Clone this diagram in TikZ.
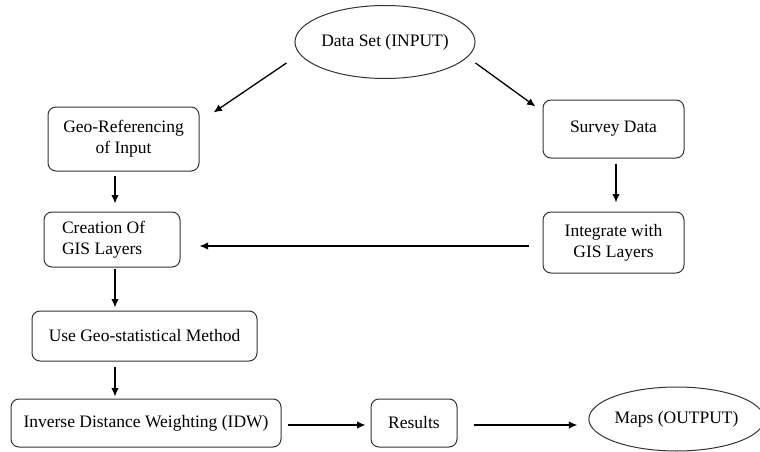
\documentclass[tikz,border=0pt]{standalone}
\usepackage{fontspec}
\setmainfont{Liberation Serif}
\usetikzlibrary{arrows.meta,shapes.geometric}

\tikzset{
  caja/.style={draw=black!80,line width=1pt,rounded corners=8pt,align=center,inner sep=2pt},
  elipse/.style={draw=black!80,line width=1pt,ellipse,inner sep=0pt},
  flecha/.style={line width=1.3pt,-{Latex[length=8.5pt,width=7.5pt]}}
}

\begin{document}
\begin{tikzpicture}[x=1pt,y=-1pt,font=\fontsize{17.5}{21}\selectfont]
    \useasboundingbox (0,0) rectangle (760,452);

    % Entrada
    \node[elipse,minimum width=146pt,minimum height=73pt] (dataset) at (385,42) {Data Set (INPUT)};

    % Columna izquierda
    \node[caja,minimum width=151pt,minimum height=64pt] (georef) at (123.5,139) {Geo-Referencing\\of Input};
    \node[caja,text width=100pt,inner xsep=18pt,minimum height=55pt,align=flush left] (creation) at (112,239.5) {Creation Of\\GIS Layers};
    \node[caja,minimum width=225pt,minimum height=50pt] (usegeo) at (144.5,336) {Use Geo-statistical Method};
    \node[caja,minimum width=270pt,minimum height=48pt] (idw) at (146,423) {Inverse Distance Weighting (IDW)};

    % Columna derecha
    \node[caja,minimum width=141pt,minimum height=58pt] (survey) at (613.5,129) {Survey Data};
    \node[caja,minimum width=141pt,minimum height=61pt] (integrate) at (613.5,242.5) {Integrate with\\GIS Layers};

    % Salida
    \node[caja,minimum width=86pt,minimum height=48pt] (results) at (414,423) {Results};
    \node[elipse,minimum width=157pt,minimum height=64pt] (maps) at (676.5,419) {Maps (OUTPUT)};

    % Flechas
    \draw[flecha] ([shift={(-8,21)}]dataset.west) -- ([shift={(14,6)}]georef.north east);
    \draw[flecha] ([shift={(0,21)}]dataset.east) -- ([shift={(-7,7)}]survey.north west);
    \draw[flecha] ([shift={(-8.5,4)}]georef.south) -- ([shift={(3,-8)}]creation.north);
    \draw[flecha] ([shift={(2.5,5)}]survey.south) -- ([shift={(2.5,-9)}]integrate.north);
    \draw[flecha] ([shift={(-14,3.5)}]integrate.west) -- ([shift={(19,6.5)}]creation.east);
    \draw[flecha] ([shift={(3,1)}]creation.south) -- ([shift={(-29.5,-3)}]usegeo.north);
    \draw[flecha] ([shift={(-29.5,5)}]usegeo.south) -- ([shift={(-31,-2)}]idw.north);
    \draw[flecha] ([shift={(6,2)}]idw.east) -- ([shift={(-5,2)}]results.west);
    \draw[flecha] ([shift={(16,2)}]results.east) -- ([shift={(-11,6)}]maps.west);
\end{tikzpicture}
\end{document}
